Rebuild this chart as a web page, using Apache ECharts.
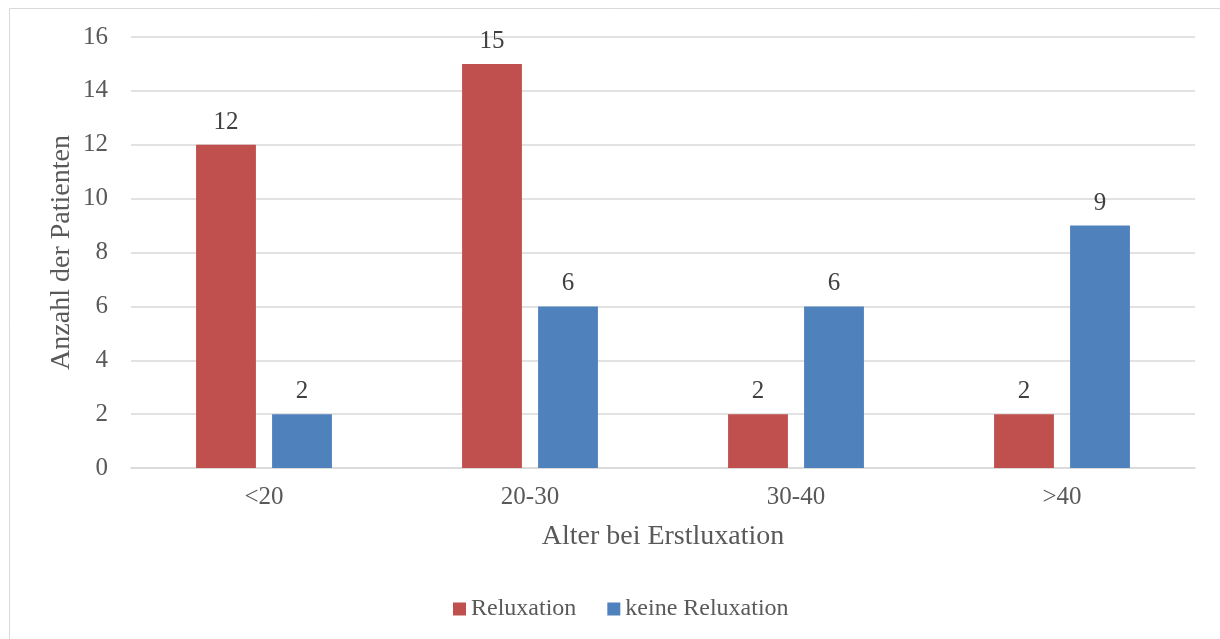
<!DOCTYPE html>
<html>
<head>
<meta charset="utf-8">
<script src="https://cdn.jsdelivr.net/npm/echarts@6/dist/echarts.min.js"></script>
<style>
  html, body { margin: 0; padding: 0; background: #ffffff; }
  #chart { width: 1220px; height: 639px; }
</style>
</head>
<body>
<div id="chart"></div>
<script>
// Age groups at first dislocation
const categories = ['<20', '20-30', '30-40', '>40'];
// Number of patients per group
const reluxation = [12, 15, 2, 2];
const keineReluxation = [2, 6, 6, 9];
const seriesNames = ['Reluxation', 'keine Reluxation'];
const yTicks = { min: 0, max: 16, interval: 2 };

const FONT = '"Liberation Serif", "DejaVu Serif", serif';
const chart = echarts.init(document.getElementById('chart'), null, { renderer: 'canvas' });

const labelStyle = {
  show: true,
  position: 'top',
  distance: 10,
  fontFamily: FONT,
  fontSize: 25,
  color: '#404040'
};

chart.setOption({
  animation: false,
  backgroundColor: '#ffffff',
  graphic: [{
    type: 'rect',
    silent: true,
    shape: { x: 9.5, y: 8.5, width: 1300, height: 700 },
    style: { fill: 'none', stroke: '#d9d9d9', lineWidth: 1 }
  }],
  grid: { left: 131, right: 25, top: 37, bottom: 171, containLabel: false },
  legend: {
    left: 448,
    top: 592,
    itemWidth: 13,
    itemHeight: 13,
    itemGap: 31,
    icon: 'rect',
    textStyle: { fontFamily: FONT, fontSize: 24, color: '#595959' },
    data: seriesNames
  },
  xAxis: {
    type: 'category',
    data: categories,
    name: 'Alter bei Erstluxation',
    nameLocation: 'middle',
    nameGap: 55,
    nameMoveOverlap: false,
    nameTextStyle: { fontFamily: FONT, fontSize: 28, color: '#595959' },
    axisLine: { lineStyle: { color: '#d9d9d9', width: 1.5 } },
    axisTick: { show: false },
    axisLabel: { margin: 17, fontFamily: FONT, fontSize: 25, color: '#595959' }
  },
  yAxis: {
    type: 'value',
    min: yTicks.min,
    max: yTicks.max,
    interval: yTicks.interval,
    name: 'Anzahl der Patienten',
    nameLocation: 'middle',
    nameGap: 55,
    nameMoveOverlap: false,
    nameTextStyle: { fontFamily: FONT, fontSize: 28, color: '#595959' },
    axisLine: { show: false },
    axisTick: { show: false },
    axisLabel: { margin: 23, fontFamily: FONT, fontSize: 25, color: '#595959' },
    splitLine: { lineStyle: { color: '#d9d9d9', width: 1.5 } }
  },
  series: [
    {
      name: seriesNames[0],
      type: 'bar',
      data: reluxation,
      barWidth: '22.5%',
      barGap: '27%',
      itemStyle: { color: '#C0504D' },
      label: labelStyle
    },
    {
      name: seriesNames[1],
      type: 'bar',
      data: keineReluxation,
      barWidth: '22.5%',
      barGap: '27%',
      itemStyle: { color: '#4F81BD' },
      label: labelStyle
    }
  ]
});
</script>
</body>
</html>
